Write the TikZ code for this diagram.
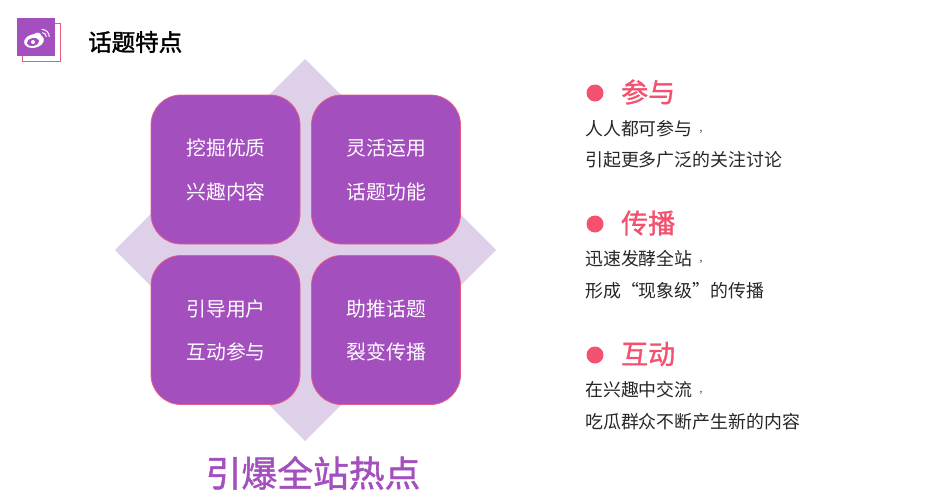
\documentclass[tikz,border=0pt]{standalone}
\usepackage{fontspec}
\usepackage{xcolor}
\usetikzlibrary{positioning, shapes.geometric}
\newfontfamily\cjk{Noto Sans CJK SC}
\newfontfamily\cjkmed[FakeBold=1.2]{Noto Sans CJK SC}
\newfontfamily\cjktitle[FakeBold=1.6]{Noto Sans CJK SC}
\newcommand{\smallcomma}{\hspace{7pt}\raisebox{3.5pt}{\fontsize{10}{10}\selectfont ,}}
\definecolor{boxpurple}{HTML}{A34FBE}
\definecolor{boxpink}{HTML}{EA5A82}
\definecolor{lightpurple}{HTML}{DDD0E8}
\definecolor{rosered}{HTML}{F4506F}
\tikzset{
    quadbox/.style={draw=boxpink, fill=boxpurple, line width=0.8pt, rounded corners=30pt, minimum width=149pt, minimum height=149pt, inner sep=0pt},
    quadtext/.style={text=white, font=\cjk\fontsize{19.8}{22}\selectfont, inner sep=0pt},
    headtext/.style={text=rosered, anchor=west, font=\cjkmed\fontsize{27}{30}\selectfont, inner sep=0pt},
    bodytext/.style={text=black!85, anchor=west, font=\cjk\fontsize{17.9}{20}\selectfont, inner sep=0pt},
    dotmark/.style={circle, fill=rosered, minimum size=17pt, inner sep=0pt},
}
\begin{document}
\begin{tikzpicture}[x=1pt, y=-1pt]
    \useasboundingbox (0, 0) rectangle (928, 501);

    % icon
    \node[draw=boxpink, fill=white, line width=0.8pt, minimum size=38pt, inner sep=0pt] (iconback) at (41, 42) {};
    \node[fill=boxpurple, minimum size=38pt, inner sep=0pt] (iconfront) at (36, 37) {};
    \fill[white, rotate around={12:(34, 41)}] (34, 41) ellipse (10pt and 6.8pt);
    \fill[white] (37.5, 36.5) circle (4pt);
    \fill[boxpurple, rotate around={12:(33, 42)}] (33, 42) ellipse (6.2pt and 3.9pt);
    \fill[white] (33, 42) circle (2pt);
    \draw[white, line width=1pt] (41.7, 29.3) arc (90:0:7.6pt);
    \draw[white, line width=1pt] (42.3, 32.7) arc (90:0:4pt);

    \node[anchor=west, inner sep=0pt, font=\cjktitle\fontsize{23.5}{26}\selectfont] (title) at (88, 42) {话题特点};

    % background diamond
    \fill[lightpurple] (305, 59) -- (496, 250) -- (305, 441) -- (115, 250) -- cycle;

    \node[quadbox] (box1) at (225.5, 169.5) {};
    \node[quadbox] (box2) at (386, 169.5) {};
    \node[quadbox] (box3) at (225.5, 330) {};
    \node[quadbox] (box4) at (386, 330) {};

    \node[quadtext] (t1a) at (226, 148) {挖掘优质};
    \node[quadtext] (t1b) at (226, 192) {兴趣内容};
    \node[quadtext] (t2a) at (386.5, 148) {灵活运用};
    \node[quadtext] (t2b) at (386.5, 192) {话题功能};
    \node[quadtext] (t3a) at (226, 309) {引导用户};
    \node[quadtext] (t3b) at (226, 352) {互动参与};
    \node[quadtext] (t4a) at (386.5, 309) {助推话题};
    \node[quadtext] (t4b) at (386.5, 352) {裂变传播};

    \node[text=boxpurple, inner sep=0pt, font=\cjkmed\fontsize{35.8}{38}\selectfont] (slogan) at (313, 473) {引爆全站热点};

    % right column
    \node[dotmark] (dot1) at (595, 93) {};
    \node[headtext] (head1) at (621, 92) {参与};
    \node[bodytext] (b1a) at (585, 128.5) {人人都可参与\smallcomma};
    \node[bodytext] (b1b) at (585, 159.5) {引起更多广泛的关注讨论};

    \node[dotmark] (dot2) at (595, 224) {};
    \node[headtext] (head2) at (621, 223) {传播};
    \node[bodytext] (b2a) at (585, 258.5) {迅速发酵全站\smallcomma};
    \node[bodytext] (b2b) at (585, 290.5) {形成“现象级”的传播};

    \node[dotmark] (dot3) at (595, 355) {};
    \node[headtext] (head3) at (621, 354) {互动};
    \node[bodytext] (b3a) at (585, 389.5) {在兴趣中交流\smallcomma};
    \node[bodytext] (b3b) at (585, 421.5) {吃瓜群众不断产生新的内容};
\end{tikzpicture}
\end{document}
